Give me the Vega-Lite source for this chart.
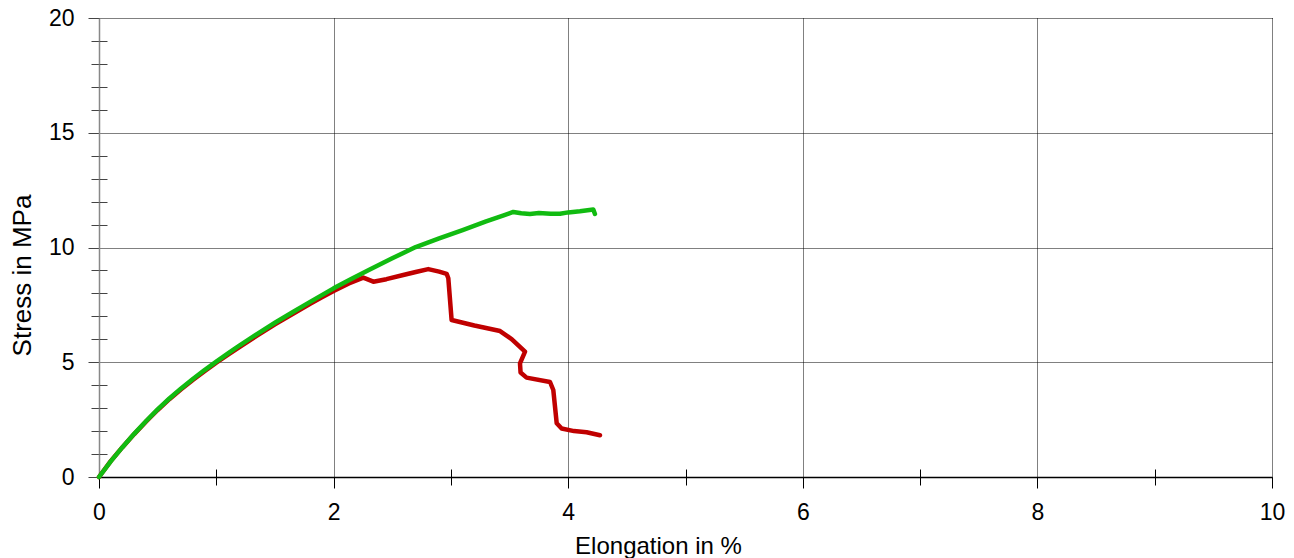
{
  "$schema": "https://vega.github.io/schema/vega-lite/v6.json",
  "width": 1173,
  "height": 459,
  "autosize": {"type": "none"},
  "padding": {"left": 99, "top": 18, "right": 22, "bottom": 81},
  "background": "white",
  "config": {"view": {"stroke": null}},
  "datasets": {
    "red": [
      {"i": 0, "x": 0, "y": 0},
      {"i": 1, "x": 0.1, "y": 0.69},
      {"i": 2, "x": 0.2, "y": 1.3},
      {"i": 3, "x": 0.3, "y": 1.87},
      {"i": 4, "x": 0.4, "y": 2.41},
      {"i": 5, "x": 0.5, "y": 2.92},
      {"i": 6, "x": 0.6, "y": 3.39},
      {"i": 7, "x": 0.7, "y": 3.82},
      {"i": 8, "x": 0.8, "y": 4.23},
      {"i": 9, "x": 0.9, "y": 4.61},
      {"i": 10, "x": 1.0, "y": 4.98},
      {"i": 11, "x": 1.1, "y": 5.33},
      {"i": 12, "x": 1.2, "y": 5.67},
      {"i": 13, "x": 1.35, "y": 6.17},
      {"i": 14, "x": 1.5, "y": 6.65},
      {"i": 15, "x": 1.65, "y": 7.1},
      {"i": 16, "x": 1.8, "y": 7.55},
      {"i": 17, "x": 1.9, "y": 7.83},
      {"i": 18, "x": 2.0, "y": 8.1},
      {"i": 19, "x": 2.13, "y": 8.43},
      {"i": 20, "x": 2.253, "y": 8.69},
      {"i": 21, "x": 2.339, "y": 8.51},
      {"i": 22, "x": 2.45, "y": 8.62},
      {"i": 23, "x": 2.594, "y": 8.8},
      {"i": 24, "x": 2.7, "y": 8.93},
      {"i": 25, "x": 2.807, "y": 9.06},
      {"i": 26, "x": 2.9, "y": 8.95},
      {"i": 27, "x": 2.964, "y": 8.85},
      {"i": 28, "x": 2.978, "y": 8.66},
      {"i": 29, "x": 3.006, "y": 6.84},
      {"i": 30, "x": 3.2, "y": 6.6},
      {"i": 31, "x": 3.419, "y": 6.36},
      {"i": 32, "x": 3.52, "y": 6.0},
      {"i": 33, "x": 3.632, "y": 5.46},
      {"i": 34, "x": 3.589, "y": 4.95},
      {"i": 35, "x": 3.594, "y": 4.55},
      {"i": 36, "x": 3.645, "y": 4.33},
      {"i": 37, "x": 3.845, "y": 4.14},
      {"i": 38, "x": 3.873, "y": 3.79},
      {"i": 39, "x": 3.902, "y": 2.34},
      {"i": 40, "x": 3.944, "y": 2.11},
      {"i": 41, "x": 4.05, "y": 2.0},
      {"i": 42, "x": 4.157, "y": 1.95},
      {"i": 43, "x": 4.271, "y": 1.82}
    ],
    "green": [
      {"i": 0, "x": 0, "y": 0},
      {"i": 1, "x": 0.1, "y": 0.68},
      {"i": 2, "x": 0.2, "y": 1.3},
      {"i": 3, "x": 0.3, "y": 1.88},
      {"i": 4, "x": 0.4, "y": 2.43},
      {"i": 5, "x": 0.5, "y": 2.95},
      {"i": 6, "x": 0.6, "y": 3.42},
      {"i": 7, "x": 0.7, "y": 3.86},
      {"i": 8, "x": 0.8, "y": 4.27},
      {"i": 9, "x": 0.9, "y": 4.66},
      {"i": 10, "x": 1.0, "y": 5.03},
      {"i": 11, "x": 1.1, "y": 5.39},
      {"i": 12, "x": 1.2, "y": 5.74},
      {"i": 13, "x": 1.35, "y": 6.24},
      {"i": 14, "x": 1.5, "y": 6.72},
      {"i": 15, "x": 1.65, "y": 7.18},
      {"i": 16, "x": 1.8, "y": 7.63},
      {"i": 17, "x": 2.0, "y": 8.22},
      {"i": 18, "x": 2.15, "y": 8.63},
      {"i": 19, "x": 2.3, "y": 9.02},
      {"i": 20, "x": 2.5, "y": 9.53},
      {"i": 21, "x": 2.7, "y": 10.02},
      {"i": 22, "x": 2.9, "y": 10.4},
      {"i": 23, "x": 3.1, "y": 10.76},
      {"i": 24, "x": 3.3, "y": 11.14},
      {"i": 25, "x": 3.45, "y": 11.4},
      {"i": 26, "x": 3.532, "y": 11.55},
      {"i": 27, "x": 3.6, "y": 11.49},
      {"i": 28, "x": 3.674, "y": 11.46},
      {"i": 29, "x": 3.75, "y": 11.5},
      {"i": 30, "x": 3.85, "y": 11.47},
      {"i": 31, "x": 3.93, "y": 11.47},
      {"i": 32, "x": 4.0, "y": 11.53},
      {"i": 33, "x": 4.1, "y": 11.58},
      {"i": 34, "x": 4.214, "y": 11.66},
      {"i": 35, "x": 4.228, "y": 11.46}
    ]
  },
  "layer": [
    {
      "data": {"name": "red"},
      "mark": {"type": "line", "color": "#C00000", "strokeWidth": 4.5, "strokeJoin": "round", "strokeCap": "round"},
      "encoding": {
        "x": {
          "field": "x", "type": "quantitative",
          "scale": {"domain": [0, 10], "nice": false, "zero": false},
          "axis": {
            "orient": "bottom",
            "values": [0, 1, 2, 3, 4, 5, 6, 7, 8, 9, 10],
            "labelExpr": "datum.value % 2 === 0 ? datum.label : ''",
            "labelFont": "Liberation Sans", "labelFontSize": 23, "labelColor": "black",
            "labelPadding": 13, "labelFlush": false, "labelOverlap": false,
            "tickSize": {"condition": {"test": "datum.value % 2 === 0", "value": 11}, "value": 8},
            "tickColor": "black", "tickWidth": 1,
            "domainColor": "black", "domainWidth": 1.5,
            "grid": true,
            "gridOpacity": {"condition": {"test": "datum.value % 2 === 0", "value": 1}, "value": 0},
            "gridColor": "black", "gridDash": [1, 1], "gridWidth": 1,
            "title": "Elongation in %",
            "titleFont": "Liberation Sans", "titleFontSize": 24, "titleFontWeight": "normal", "titleColor": "black",
            "titleX": 559, "titleY": 76, "titleBaseline": "alphabetic", "titleAlign": "center"
          }
        },
        "y": {
          "field": "y", "type": "quantitative",
          "scale": {"domain": [0, 20], "nice": false},
          "axis": {
            "orient": "left",
            "values": [0, 1, 2, 3, 4, 5, 6, 7, 8, 9, 10, 11, 12, 13, 14, 15, 16, 17, 18, 19, 20],
            "labelExpr": "datum.value % 5 === 0 ? datum.label : ''",
            "labelFont": "Liberation Sans", "labelFontSize": 23, "labelColor": "black",
            "labelPadding": 14, "labelFlush": false, "labelOverlap": false,
            "tickSize": {"condition": {"test": "datum.value % 5 === 0", "value": 11}, "value": 8},
            "tickColor": "#444", "tickWidth": 1,
            "domainColor": "#888", "domainWidth": 1.5,
            "grid": true,
            "gridOpacity": {"condition": {"test": "datum.value % 5 === 0", "value": 1}, "value": 0},
            "gridColor": "black", "gridDash": [1, 1], "gridWidth": 1,
            "title": "Stress in MPa",
            "titleFont": "Liberation Sans", "titleFontSize": 26, "titleFontWeight": "normal", "titleColor": "black",
            "titleX": -69, "titleY": 257, "titleBaseline": "alphabetic", "titleAlign": "center", "titleAngle": -90
          }
        },
        "order": {"field": "i", "type": "quantitative"}
      }
    },
    {
      "data": {"name": "green"},
      "mark": {"type": "line", "color": "#11BB11", "strokeWidth": 4.5, "strokeJoin": "round", "strokeCap": "round"},
      "encoding": {
        "x": {"field": "x", "type": "quantitative", "axis": null},
        "y": {"field": "y", "type": "quantitative", "axis": null},
        "order": {"field": "i", "type": "quantitative"}
      }
    },
    {
      "data": {"name": "red"},
      "mark": {"type": "point", "opacity": 0},
      "encoding": {
        "x": {
          "field": "x", "type": "quantitative",
          "axis": {
            "orient": "bottom", "values": [1, 3, 5, 7, 9],
            "tickSize": -8, "tickColor": "black", "tickWidth": 1,
            "labels": false, "domain": false, "grid": false, "title": null
          }
        },
        "y": {
          "field": "y", "type": "quantitative",
          "axis": {
            "orient": "left", "values": [1, 2, 3, 4, 6, 7, 8, 9, 11, 12, 13, 14, 16, 17, 18, 19],
            "tickSize": -8, "tickColor": "#444", "tickWidth": 1,
            "labels": false, "domain": false, "grid": false, "title": null
          }
        }
      }
    }
  ],
  "resolve": {"axis": {"x": "independent", "y": "independent"}}
}
